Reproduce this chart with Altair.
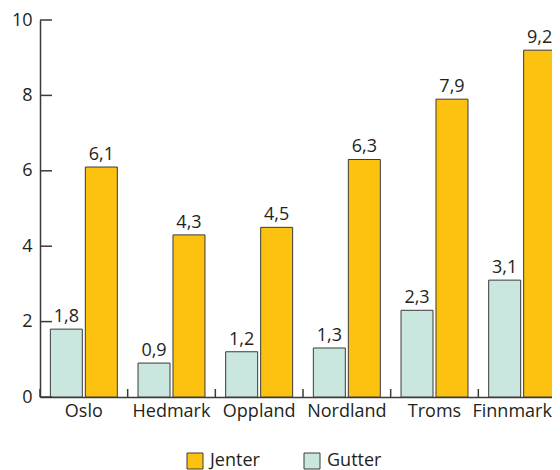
import altair as alt
import pandas as pd

regions = ["Oslo", "Hedmark", "Oppland", "Nordland", "Troms", "Finnmark"]
jenter = [6.1, 4.3, 4.5, 6.3, 7.9, 9.2]
gutter = [1.8, 0.9, 1.2, 1.3, 2.3, 3.1]
y_ticks = [0, 2, 4, 6, 8, 10]
groups_legend = ["Jenter", "Gutter"]
groups_bars = ["Gutter", "Jenter"]
colors = ["#FDC20F", "#C9E6DF"]

rows = []
for r, j, g in zip(regions, jenter, gutter):
    rows.append({"region": r, "kjonn": "Gutter", "verdi": g})
    rows.append({"region": r, "kjonn": "Jenter", "verdi": j})
df = pd.DataFrame(rows)
df["etikett"] = df["verdi"].map(lambda v: f"{v:.1f}".replace(".", ","))

FONT = "Open Sans"
INK = "#231f20"
LINE = "#3a3a3a"
W, H = 512, 377

xscale = alt.Scale(domain=regions, range=[0, 526], paddingInner=0, paddingOuter=0)
xaxis = alt.Axis(labelAngle=0, ticks=False, labelPadding=5, labelFontSize=18,
                 labelColor=INK, labelFont=FONT, domainColor=LINE, domainWidth=1.5,
                 grid=False,
                 labelOffset={"condition": {"test": "datum.label == 'Finnmark'", "value": -10},
                              "value": 0})
yscale = alt.Scale(domain=[0, 10], nice=False)
yaxis = alt.Axis(values=y_ticks, ticks=False, labelPadding=8, labelFontSize=18,
                 labelColor=INK, labelFont=FONT, domainColor=LINE, domainWidth=1.5,
                 grid=False)

x = alt.X("region:N", scale=xscale, sort=regions, title=None, axis=xaxis)
xoff = alt.XOffset("kjonn:N", sort=groups_bars,
                   scale=alt.Scale(domain=groups_bars, paddingInner=0.0857, paddingOuter=0.296))
y = alt.Y("verdi:Q", scale=yscale, title=None, axis=yaxis)
color = alt.Color("kjonn:N", scale=alt.Scale(domain=groups_legend, range=colors),
                  legend=alt.Legend(title=None, orient="none", legendX=146, legendY=432,
                                    direction="horizontal", symbolType="square",
                                    symbolSize=256, symbolStrokeColor=LINE,
                                    symbolStrokeWidth=1, symbolOpacity=1,
                                    labelFontSize=18, labelFont=FONT, labelColor=INK,
                                    labelOffset=6, columnPadding=42))

bars = alt.Chart(df).mark_bar(stroke=LINE, strokeWidth=1).encode(
    x=x, xOffset=xoff, y=y, color=color)

text = alt.Chart(df).mark_text(baseline="bottom", dy=-3, fontSize=18, font=FONT,
                               color=INK).encode(
    x=x, xOffset=xoff, y=y, text="etikett:N")

xticks = alt.Chart(pd.DataFrame({"region": regions})).mark_rule(
    color=LINE, strokeWidth=1.5).encode(
    x=alt.X("region:N", bandPosition=0, scale=xscale, sort=regions, title=None, axis=xaxis),
    y=alt.value(H), y2=alt.value(H - 8))

yticks = alt.Chart(pd.DataFrame({"verdi": y_ticks})).mark_rule(
    color=LINE, strokeWidth=1.5).encode(
    y=alt.Y("verdi:Q", scale=yscale, title=None, axis=yaxis),
    x=alt.value(0), x2=alt.value(12))

chart = alt.layer(bars, text, xticks, yticks).properties(
    width=W, height=H,
    autosize=alt.AutoSizeParams(type="none"),
    padding={"left": 32, "top": 12, "right": 0, "bottom": 73},
).configure_view(stroke=None)

chart.save("out.html", embed_options={"renderer": "svg", "actions": False})
